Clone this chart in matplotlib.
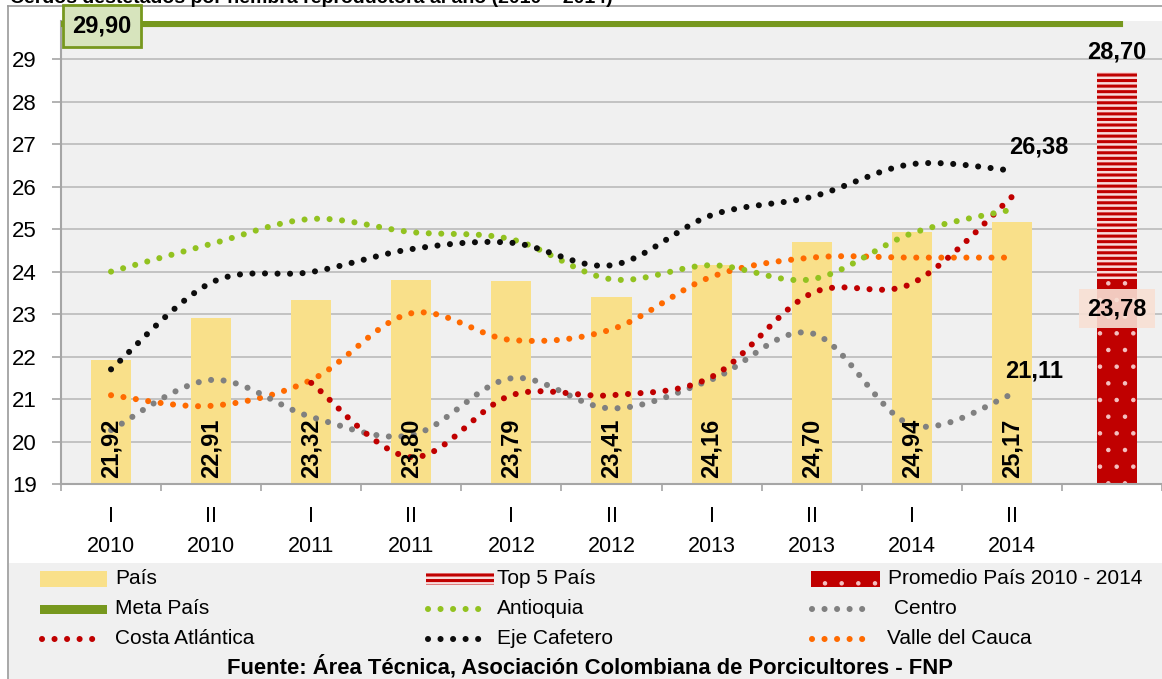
import numpy as np
import matplotlib
matplotlib.use("Agg")
import matplotlib.pyplot as plt
from matplotlib.patches import Rectangle

FONT = ['Liberation Sans Narrow', 'Liberation Sans', 'DejaVu Sans']
plt.rcParams['font.family'] = FONT
plt.rcParams['hatch.linewidth'] = 2.2

# ---------------- data ----------------
semesters = ["I", "II", "I", "II", "I", "II", "I", "II", "I", "II"]
years = ["2010", "2010", "2011", "2011", "2012", "2012", "2013", "2013", "2014", "2014"]
pais = [21.92, 22.91, 23.32, 23.80, 23.79, 23.41, 24.16, 24.70, 24.94, 25.17]
pais_labels = ["21,92", "22,91", "23,32", "23,80", "23,79", "23,41", "24,16", "24,70", "24,94", "25,17"]
antioquia = [24.00, 24.65, 25.24, 24.93, 24.76, 23.82, 24.15, 23.82, 24.90, 25.46]
eje_cafetero = [21.70, 23.74, 23.99, 24.53, 24.68, 24.15, 25.33, 25.76, 26.53, 26.38]
centro = [20.27, 21.45, 20.58, 20.15, 21.49, 20.78, 21.46, 22.55, 20.39, 21.11]
costa_atlantica = [np.nan, np.nan, 21.38, 19.63, 21.09, 21.09, 21.52, 23.49, 23.72, 25.76]
valle_cauca = [21.09, 20.84, 21.45, 23.02, 22.39, 22.64, 23.88, 24.33, 24.33, 24.33]
meta_pais = 29.90
top5_pais = 28.70
promedio_pais = 23.78

# ---------------- colours ----------------
C_PAIS = '#F9E08A'
C_META = '#77981E'
C_RED = '#C00000'
C_ANT = '#92C220'
C_EJE = '#0D0D0D'
C_CEN = '#808080'
C_COS = '#C00000'
C_VAL = '#FF6A00'
BG = '#F0F0F0'
GRID = '#BFBFBF'


def set_hlw(patches, lw):
    for p in patches:
        if hasattr(p, 'set_hatch_linewidth'):
            p.set_hatch_linewidth(lw)


W, H = 1162, 679
fig = plt.figure(figsize=(W / 100, H / 100), dpi=100)
fig.patch.set_facecolor('white')

# background / decoration axes in pixel coordinates
bg = fig.add_axes([0, 0, 1, 1], zorder=-1)
bg.set_xlim(0, W)
bg.set_ylim(H, 0)
bg.axis('off')
bg.add_patch(Rectangle((9, 563), W - 9, H - 563, facecolor=BG, edgecolor='none'))
bg.plot([8, 8], [6, H], color='#9A9A9A', lw=1.2)
bg.plot([8, W], [6, 6], color='#9A9A9A', lw=1.2)
fig.text(10 / W, 1 - 3 / H, "Cerdos destetados por hembra reproductora al año (2010 – 2014)",
         fontsize=14, fontweight='bold', va='baseline', ha='left')

# main axes
ax = fig.add_axes([61 / W, (H - 484) / H, (W - 61) / W, (484 - 21) / H])
ax.set_facecolor(BG)
ax.set_xlim(-0.5, 10.5)
ax.set_ylim(19, 29.9)

x = np.arange(len(pais))

# bars
ax.bar(x, [v - 19 for v in pais], bottom=19, width=0.4, color=C_PAIS, zorder=2)
for xi, v, lab in zip(x, pais, pais_labels):
    ax.text(xi, 19.15, lab, rotation=90, ha='center', va='bottom',
            fontsize=17, fontweight='bold', zorder=6)

# red bar: promedio (dots) + top 5 (stripes)
plt.rcParams['hatch.linewidth'] = 0.8
b1 = ax.bar([10.05], [promedio_pais - 19], bottom=19, width=0.4, color=C_RED,
            edgecolor='#F4C0C0', hatch='.', linewidth=0, zorder=2)
set_hlw(b1, 0.8)
plt.rcParams['hatch.linewidth'] = 2.2
b2 = ax.bar([10.05], [top5_pais - promedio_pais], bottom=promedio_pais, width=0.4,
            color='#F8DADA', edgecolor=C_RED, hatch='---', linewidth=0, zorder=2)
set_hlw(b2, 2.2)
ax.text(10.05, top5_pais + 0.2, "28,70", ha='center', va='bottom', fontsize=17, fontweight='bold')
ax.text(10.05, promedio_pais - 0.65, "23,78", ha='center', va='center', fontsize=17, fontweight='bold',
        zorder=7, bbox=dict(boxstyle='square,pad=0.35', facecolor='#F8E0D4', edgecolor='none', alpha=0.9))

# meta line
ax.axhline(meta_pais, color=C_META, lw=8, zorder=4, xmax=0.959)
ax.text(-0.09, meta_pais - 0.12, "29,90", ha='center', va='center', fontsize=17,
        fontweight='bold', zorder=8, clip_on=False,
        bbox=dict(boxstyle='square,pad=0.4', facecolor='#D7E4BD', edgecolor=C_META, lw=2))


def smooth(xs, ys, n=24):
    xs = np.asarray(xs, float)
    ys = np.asarray(ys, float)
    m = ~np.isnan(ys)
    P = np.column_stack([xs[m], ys[m]])
    out = []
    t = np.linspace(0, 1, n)[:, None]
    for i in range(len(P) - 1):
        p0 = P[i - 1] if i > 0 else P[i]
        p1 = P[i]
        p2 = P[i + 1]
        p3 = P[i + 2] if i + 2 < len(P) else P[i + 1]
        c1 = p1 + (p2 - p0) / 6
        c2 = p2 - (p3 - p1) / 6
        seg = ((1 - t) ** 3) * p1 + 3 * ((1 - t) ** 2) * t * c1 + 3 * (1 - t) * t ** 2 * c2 + t ** 3 * p2
        out.append(seg if i == 0 else seg[1:])
    S = np.vstack(out)
    return S[:, 0], S[:, 1]


DOT = (0, (0.001, 2.05))
series = [
    (valle_cauca, C_VAL),
    (centro, C_CEN),
    (costa_atlantica, C_COS),
    (antioquia, C_ANT),
    (eje_cafetero, C_EJE),
]
for ys, col in series:
    sx, sy = smooth(x, ys)
    ax.plot(sx, sy, color=col, lw=4.4, linestyle=DOT, dash_capstyle='round', zorder=5)

ax.text(9.27, 26.38 + 0.55, "26,38", ha='center', va='center', fontsize=17, fontweight='bold')
ax.text(9.22, 21.11 + 0.55, "21,11", ha='center', va='center', fontsize=17, fontweight='bold')

# axes styling
for s in ['top', 'right']:
    ax.spines[s].set_visible(False)
for s in ['left', 'bottom']:
    ax.spines[s].set_color('#A6A6A6')
    ax.spines[s].set_linewidth(1.5)
ax.set_yticks(range(19, 30))
ax.set_yticklabels([str(v) for v in range(19, 30)])
ax.tick_params(axis='y', length=6.5, width=1.2, color='#A6A6A6', pad=11, labelsize=16)
ax.yaxis.grid(True, color=GRID, lw=1.3, zorder=0)
ax.set_axisbelow(True)

ax.set_xticks(np.arange(-0.5, 10.6, 1))
ax.set_xticklabels([])
ax.tick_params(axis='x', which='major', length=5, width=1.2, color='#A6A6A6')
ax.set_xticks(np.arange(0, 10), minor=True)
ax.set_xticklabels([f"{s}\n{y}" for s, y in zip(semesters, years)], minor=True)
ax.tick_params(axis='x', which='minor', length=0, pad=16, labelsize=15.5)
for lab in ax.get_xticklabels(minor=True):
    lab.set_linespacing(1.55)

# legend (manual, pixel coords)
LFS = 15
rows = [579, 609, 639]


def txt(xp, yp, s):
    bg.text(xp, yp, s, fontsize=LFS, va='center', ha='left')


def dotline(x0, yp, col):
    bg.plot([x0 + 4, x0 + 66], [yp, yp], color=col, lw=4.4, linestyle=DOT, dash_capstyle='round')


# column 1
bg.add_patch(Rectangle((40, rows[0] - 8), 67, 16, facecolor=C_PAIS, edgecolor='none'))
txt(115, rows[0], "País")
bg.add_patch(Rectangle((40, rows[1] - 4.5), 67, 9, facecolor=C_META, edgecolor='none'))
txt(115, rows[1], "Meta País")
dotline(38, rows[2], C_COS)
txt(115, rows[2], "Costa Atlántica")
# column 2
plt.rcParams['hatch.linewidth'] = 2.2
r2 = bg.add_patch(Rectangle((426, rows[0] - 6), 68, 12, facecolor='#F8DADA', edgecolor=C_RED,
                            hatch='---', linewidth=0))
set_hlw([r2], 2.2)
txt(497, rows[0], "Top 5 País")
dotline(424, rows[1], C_ANT)
txt(497, rows[1], "Antioquia")
dotline(424, rows[2], C_EJE)
txt(497, rows[2], "Eje Cafetero")
# column 3
plt.rcParams['hatch.linewidth'] = 0.8
r3 = bg.add_patch(Rectangle((811, rows[0] - 8), 69, 16, facecolor=C_RED, edgecolor='#F4C0C0',
                            hatch='.', linewidth=0))
set_hlw([r3], 0.8)
txt(888, rows[0], "Promedio País 2010 - 2014")
dotline(808, rows[1], C_CEN)
txt(894, rows[1], "Centro")
dotline(808, rows[2], C_VAL)
txt(887, rows[2], "Valle del Cauca")

bg.text(590, 667, "Fuente: Área Técnica, Asociación Colombiana de Porcicultores - FNP",
        fontsize=15.8, fontweight='bold', ha='center', va='center')

fig.savefig('out.png', dpi=100)
